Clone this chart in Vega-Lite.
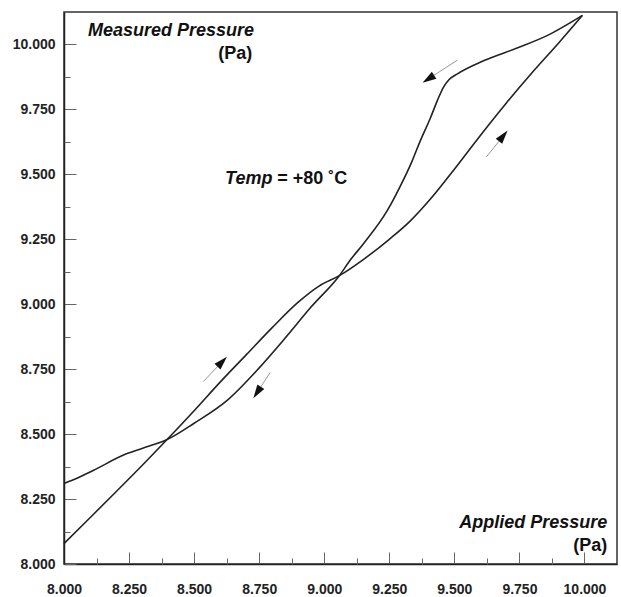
{
  "$schema": "https://vega.github.io/schema/vega-lite/v6.json",
  "width": 553,
  "height": 552,
  "autosize": {"type": "none"},
  "padding": {"left": 64, "top": 12, "right": 4, "bottom": 33},
  "background": "white",
  "config": {
    "view": {"stroke": "#333", "strokeWidth": 1.5},
    "font": "Liberation Sans"
  },
  "resolve": {"axis": {"x": "independent", "y": "independent"}},
  "datasets": {
    "curves": [
      {"branch": "increasing", "applied": 8.0, "measured": 8.079},
      {"branch": "increasing", "applied": 8.1, "measured": 8.178},
      {"branch": "increasing", "applied": 8.2, "measured": 8.278},
      {"branch": "increasing", "applied": 8.3, "measured": 8.379},
      {"branch": "increasing", "applied": 8.396, "measured": 8.479},
      {"branch": "increasing", "applied": 8.5, "measured": 8.59},
      {"branch": "increasing", "applied": 8.6, "measured": 8.7},
      {"branch": "increasing", "applied": 8.7, "measured": 8.805},
      {"branch": "increasing", "applied": 8.8, "measured": 8.91},
      {"branch": "increasing", "applied": 8.9, "measured": 9.008},
      {"branch": "increasing", "applied": 8.98, "measured": 9.07},
      {"branch": "increasing", "applied": 9.058, "measured": 9.11},
      {"branch": "increasing", "applied": 9.15, "measured": 9.172},
      {"branch": "increasing", "applied": 9.25, "measured": 9.25},
      {"branch": "increasing", "applied": 9.33, "measured": 9.32},
      {"branch": "increasing", "applied": 9.408, "measured": 9.405},
      {"branch": "increasing", "applied": 9.5, "measured": 9.52},
      {"branch": "increasing", "applied": 9.6, "measured": 9.65},
      {"branch": "increasing", "applied": 9.7, "measured": 9.775},
      {"branch": "increasing", "applied": 9.8, "measured": 9.893},
      {"branch": "increasing", "applied": 9.9, "measured": 10.005},
      {"branch": "increasing", "applied": 9.992, "measured": 10.112},
      {"branch": "decreasing", "applied": 9.992, "measured": 10.112},
      {"branch": "decreasing", "applied": 9.858, "measured": 10.035},
      {"branch": "decreasing", "applied": 9.746, "measured": 9.988},
      {"branch": "decreasing", "applied": 9.612, "measured": 9.937},
      {"branch": "decreasing", "applied": 9.512, "measured": 9.887},
      {"branch": "decreasing", "applied": 9.48, "measured": 9.865},
      {"branch": "decreasing", "applied": 9.458, "measured": 9.835},
      {"branch": "decreasing", "applied": 9.435, "measured": 9.785},
      {"branch": "decreasing", "applied": 9.408, "measured": 9.717},
      {"branch": "decreasing", "applied": 9.369, "measured": 9.629},
      {"branch": "decreasing", "applied": 9.338, "measured": 9.552},
      {"branch": "decreasing", "applied": 9.29, "measured": 9.45},
      {"branch": "decreasing", "applied": 9.242, "measured": 9.36},
      {"branch": "decreasing", "applied": 9.15, "measured": 9.232},
      {"branch": "decreasing", "applied": 9.1, "measured": 9.17},
      {"branch": "decreasing", "applied": 9.058, "measured": 9.11},
      {"branch": "decreasing", "applied": 8.95, "measured": 8.99},
      {"branch": "decreasing", "applied": 8.85, "measured": 8.87},
      {"branch": "decreasing", "applied": 8.75, "measured": 8.755},
      {"branch": "decreasing", "applied": 8.627, "measured": 8.63},
      {"branch": "decreasing", "applied": 8.5, "measured": 8.542},
      {"branch": "decreasing", "applied": 8.396, "measured": 8.479},
      {"branch": "decreasing", "applied": 8.3, "measured": 8.445},
      {"branch": "decreasing", "applied": 8.242, "measured": 8.425},
      {"branch": "decreasing", "applied": 8.112, "measured": 8.36},
      {"branch": "decreasing", "applied": 8.05, "measured": 8.33},
      {"branch": "decreasing", "applied": 8.0, "measured": 8.31}
    ],
    "arrows": [
      {"dir": "decreasing", "tx": 9.512, "ty": 9.94, "hx": 9.4, "hy": 9.867},
      {"dir": "increasing", "tx": 9.623, "ty": 9.567, "hx": 9.688, "hy": 9.648},
      {"dir": "increasing", "tx": 8.535, "ty": 8.702, "hx": 8.608, "hy": 8.779},
      {"dir": "decreasing", "tx": 8.792, "ty": 8.737, "hx": 8.742, "hy": 8.66}
    ],
    "labels": [
      {"role": "italicLeft", "text": "Measured Pressure", "x": 8.092, "y": 10.052},
      {"role": "italicLeft", "text": "Temp", "x": 8.619, "y": 9.483},
      {"role": "uprightLeft", "text": "= +80 ˚C", "x": 8.819, "y": 9.483},
      {"role": "uprightRight", "text": "(Pa)", "x": 8.723, "y": 9.963},
      {"role": "uprightRight", "text": "(Pa)", "x": 10.088, "y": 8.071},
      {"role": "italicRight", "text": "Applied Pressure", "x": 10.088, "y": 8.156}
    ]
  },
  "layer": [
    {
      "data": {"name": "curves"},
      "mark": {"type": "line", "interpolate": "monotone", "color": "#222", "strokeWidth": 1.6},
      "encoding": {
        "x": {
          "field": "applied", "type": "quantitative",
          "scale": {"domain": [8, 10.125], "nice": false, "zero": false},
          "axis": {
            "orient": "bottom", "title": null, "grid": false,
            "values": [8, 8.25, 8.5, 8.75, 9, 9.25, 9.5, 9.75, 10],
            "format": ".3f",
            "tickSize": -12, "tickColor": "#666", "tickWidth": 1,
            "domainColor": "#222", "domainWidth": 1.5,
            "labelFont": "Liberation Sans", "labelFontSize": 14, "labelFontWeight": "bold", "labelColor": "#222",
            "labelPadding": 30, "labelFlush": false, "labelOverlap": false
          }
        },
        "y": {
          "field": "measured", "type": "quantitative",
          "scale": {"domain": [8, 10.125], "nice": false, "zero": false},
          "axis": {
            "orient": "left", "title": null, "grid": false,
            "values": [8, 8.25, 8.5, 8.75, 9, 9.25, 9.5, 9.75, 10],
            "format": ".3f",
            "tickSize": -12, "tickColor": "#666", "tickWidth": 1,
            "domainColor": "#222", "domainWidth": 1.5,
            "labelFont": "Liberation Sans", "labelFontSize": 14, "labelFontWeight": "bold", "labelColor": "#222",
            "labelPadding": 21, "labelFlush": false, "labelOverlap": false
          }
        },
        "detail": {"field": "branch"}
      }
    },
    {
      "data": {"name": "arrows"},
      "mark": {"type": "rule", "color": "#999", "strokeWidth": 1},
      "encoding": {
        "x": {
          "field": "tx", "type": "quantitative",
          "axis": {
            "orient": "bottom", "title": null, "grid": false, "domain": false, "labels": false,
            "values": [8.125, 8.375, 8.625, 8.875, 9.125, 9.375, 9.625, 9.875],
            "tickSize": -6, "tickColor": "#666", "tickWidth": 1
          }
        },
        "y": {
          "field": "ty", "type": "quantitative",
          "axis": {
            "orient": "left", "title": null, "grid": false, "domain": false, "labels": false,
            "values": [8.125, 8.375, 8.625, 8.875, 9.125, 9.375, 9.625, 9.875],
            "tickSize": -6, "tickColor": "#666", "tickWidth": 1
          }
        },
        "x2": {"field": "hx"},
        "y2": {"field": "hy"}
      }
    },
    {
      "data": {"name": "arrows"},
      "transform": [{"calculate": "atan2(datum.hx - datum.tx, datum.hy - datum.ty) * 180 / PI", "as": "heading"}],
      "mark": {"type": "point", "filled": true, "color": "#111", "opacity": 1, "size": 190, "shape": "M0,-1L0.6,1L-0.6,1Z"},
      "encoding": {
        "x": {"field": "hx", "type": "quantitative", "axis": null},
        "y": {"field": "hy", "type": "quantitative", "axis": null},
        "angle": {"field": "heading", "type": "quantitative", "scale": null}
      }
    },
    {
      "data": {"name": "labels"},
      "transform": [{"filter": "datum.role === 'italicLeft'"}],
      "mark": {"type": "text", "align": "left", "baseline": "middle", "font": "Liberation Sans", "fontSize": 18, "fontWeight": "bold", "fontStyle": "italic", "color": "#111"},
      "encoding": {
        "x": {"field": "x", "type": "quantitative", "axis": null},
        "y": {"field": "y", "type": "quantitative", "axis": null},
        "text": {"field": "text"}
      }
    },
    {
      "data": {"name": "labels"},
      "transform": [{"filter": "datum.role === 'italicRight'"}],
      "mark": {"type": "text", "align": "right", "baseline": "middle", "font": "Liberation Sans", "fontSize": 18, "fontWeight": "bold", "fontStyle": "italic", "color": "#111"},
      "encoding": {
        "x": {"field": "x", "type": "quantitative", "axis": null},
        "y": {"field": "y", "type": "quantitative", "axis": null},
        "text": {"field": "text"}
      }
    },
    {
      "data": {"name": "labels"},
      "transform": [{"filter": "datum.role === 'uprightLeft'"}],
      "mark": {"type": "text", "align": "left", "baseline": "middle", "font": "Liberation Sans", "fontSize": 18, "fontWeight": "bold", "color": "#111"},
      "encoding": {
        "x": {"field": "x", "type": "quantitative", "axis": null},
        "y": {"field": "y", "type": "quantitative", "axis": null},
        "text": {"field": "text"}
      }
    },
    {
      "data": {"name": "labels"},
      "transform": [{"filter": "datum.role === 'uprightRight'"}],
      "mark": {"type": "text", "align": "right", "baseline": "middle", "font": "Liberation Sans", "fontSize": 18, "fontWeight": "bold", "color": "#111"},
      "encoding": {
        "x": {"field": "x", "type": "quantitative", "axis": null},
        "y": {"field": "y", "type": "quantitative", "axis": null},
        "text": {"field": "text"}
      }
    }
  ]
}
